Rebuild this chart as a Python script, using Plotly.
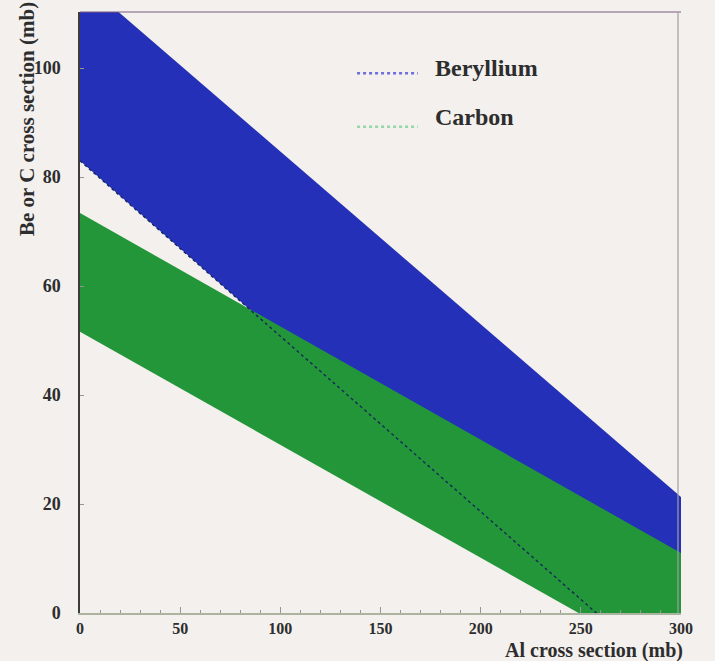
import plotly.graph_objects as go

# Data
x_pts = [0, 300]
be_upper = [116.4, 21.3]
be_lower = [83.0, -13.6]
c_upper = [73.4, 11.0]
c_lower = [51.6, -10.6]

series_names = ["Beryllium", "Carbon"]
x_ticks = [0, 50, 100, 150, 200, 250, 300]
y_ticks = [0, 20, 40, 60, 80, 100]

BLUE = "rgb(36,48,184)"
GREEN = "rgb(34,150,56)"
BG = "rgb(243,240,237)"
FONT = "Liberation Serif"
TXT = "rgb(45,45,45)"

fig = go.Figure()

# Beryllium band
fig.add_trace(go.Scatter(x=x_pts, y=be_lower, mode="lines",
                         line=dict(color=BLUE, width=0), showlegend=False, hoverinfo="skip"))
fig.add_trace(go.Scatter(x=x_pts, y=be_upper, mode="lines", fill="tonexty",
                         fillcolor=BLUE, line=dict(color=BLUE, width=0),
                         name=series_names[0], showlegend=False))
# Carbon band
fig.add_trace(go.Scatter(x=x_pts, y=c_lower, mode="lines",
                         line=dict(color=GREEN, width=0), showlegend=False, hoverinfo="skip"))
fig.add_trace(go.Scatter(x=x_pts, y=c_upper, mode="lines", fill="tonexty",
                         fillcolor=GREEN, line=dict(color=GREEN, width=0),
                         name=series_names[1], showlegend=False))
# Beryllium lower edge seen through the carbon band
fig.add_trace(go.Scatter(x=x_pts, y=be_lower, mode="lines",
                         line=dict(color="rgb(20,40,90)", width=1.4, dash="dot"),
                         showlegend=False, hoverinfo="skip"))

fig.update_layout(
    width=715, height=661,
    margin=dict(l=80, r=34, t=12, b=48),
    paper_bgcolor=BG, plot_bgcolor=BG,
    font=dict(family=FONT, color=TXT),
    xaxis=dict(range=[0, 300], tickvals=x_ticks, showgrid=False, zeroline=False,
               showline=True, linecolor="rgb(170,180,160)", linewidth=1.5,
               ticks="inside", ticklen=6, tickcolor="rgb(150,150,150)",
               ticklabelstandoff=0,
               minor=dict(dtick=10, ticks="inside", ticklen=3, tickcolor="rgb(150,150,150)"),
               tickfont=dict(size=16, family=FONT, color=TXT, weight="bold")),
    yaxis=dict(range=[0, 110.3], tickvals=y_ticks, showgrid=False, zeroline=False,
               showline=True, linecolor="rgb(60,60,60)", linewidth=1.5,
               ticks="inside", ticklen=4, tickcolor="rgb(150,150,150)",
               ticklabelstandoff=14,
               tickfont=dict(size=18, family=FONT, color=TXT, weight="bold")),
    shapes=[
        dict(type="line", xref="paper", yref="paper", x0=0, x1=1, y0=1, y1=1,
             line=dict(color="rgb(120,90,130)", width=1.2)),
        dict(type="line", xref="paper", yref="paper", x0=0.995, x1=0.995, y0=0, y1=1,
             line=dict(color="rgb(160,160,160)", width=1.2)),
        dict(type="line", xref="paper", yref="paper", x0=0.461, x1=0.562, y0=0.898, y1=0.898,
             line=dict(color="rgb(110,110,220)", width=2.5, dash="dot")),
        dict(type="line", xref="paper", yref="paper", x0=0.461, x1=0.562, y0=0.809, y1=0.809,
             line=dict(color="rgb(150,215,170)", width=2.5, dash="dot")),
    ],
    annotations=[
        dict(text=series_names[0], xref="paper", yref="paper", x=0.588, y=0.907,
             xanchor="left", yanchor="middle", showarrow=False,
             font=dict(size=24, family=FONT, color=TXT, weight="bold")),
        dict(text=series_names[1], xref="paper", yref="paper", x=0.588, y=0.825,
             xanchor="left", yanchor="middle", showarrow=False,
             font=dict(size=24, family=FONT, color=TXT, weight="bold")),
        dict(text="Al cross section (mb)", xref="paper", yref="paper", x=1.005, y=-0.084,
             xanchor="right", yanchor="bottom", showarrow=False, borderpad=0,
             font=dict(size=20, family=FONT, color=TXT, weight="bold")),
        dict(text="Be or C cross section (mb)", xref="paper", yref="paper", x=-0.088, y=1.02,
             xanchor="center", yanchor="top", textangle=-90, showarrow=False,
             font=dict(size=21, family=FONT, color=TXT, weight="bold")),
    ],
)

fig.write_html("out.html")
